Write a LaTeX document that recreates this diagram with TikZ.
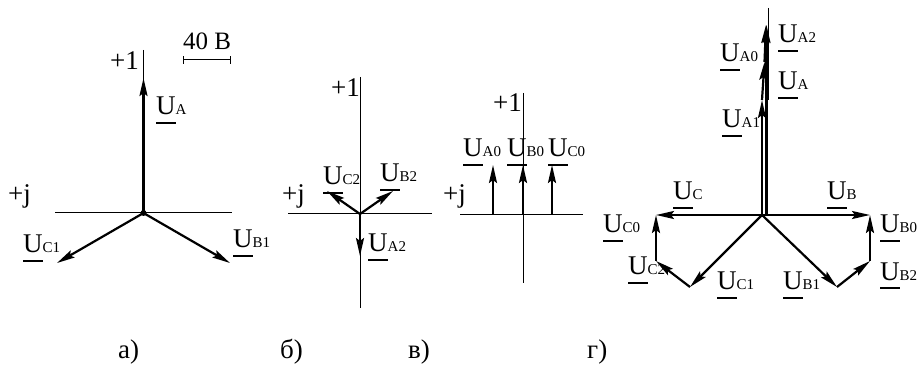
\documentclass[tikz,border=0pt]{standalone}
\usepackage{fontspec}
\setmainfont{Liberation Serif}
\usetikzlibrary{arrows.meta}
\newcommand\UL[1]{\sbox0{U}\rlap{\rule[-9.5pt]{\wd0}{2.6pt}}U{\fontsize{15}{15}\selectfont #1}}
\tikzset{
  vec/.style={line width=2.2pt,-{Stealth[length=18pt,width=8pt,inset=3pt]}},
  ax/.style={line width=1pt},
  lab/.style={anchor=base west,inner sep=0pt,font=\fontsize{27}{27}\selectfont},
  capt/.style={anchor=base west,inner sep=0pt,font=\fontsize{27}{27}\selectfont}
}
\begin{document}
\begin{tikzpicture}[x=1pt,y=-1pt]
\useasboundingbox (0,0) rectangle (919,366);
% ---------- a)
\coordinate (Oa) at (143.5,213);
\coordinate (aT) at (143.5,50);
\coordinate (aL) at (55,213);
\coordinate (aR) at (232,213);
\coordinate (aA) at (143.5,78);
\coordinate (aC1) at (57,263);
\coordinate (aB1) at (230,263);
\draw[ax] (aT) -- (Oa);
\draw[ax] (aL) -- (aR);
\draw[vec] (Oa) -- (aA);
\draw[vec] (Oa) -- (aC1);
\draw[vec] (Oa) -- (aB1);
\fill (Oa) circle (3);
\node[lab] (pa1) at (110,70) {+1};
\node[lab] (paj) at (8,203) {+j};
\node[lab] (laA) at (156,115) {\UL{A}};
\node[lab] (laC1) at (23,253) {\UL{C1}};
\node[lab] (laB1) at (233,248) {\UL{B1}};
\node[lab,font=\fontsize{25}{25}\selectfont] (sc) at (183,50) {40 B};
\coordinate (s1) at (183,60);
\coordinate (s2) at (230,60);
\draw[ax] (s1) -- (s2);
\draw[ax] ([yshift=-4pt]s1) -- ([yshift=4pt]s1);
\draw[ax] ([yshift=-4pt]s2) -- ([yshift=4pt]s2);
% ---------- b)
\coordinate (Ob) at (360,214);
\coordinate (bT) at (360,77);
\coordinate (bB) at (360,308);
\coordinate (bL) at (288,214);
\coordinate (bR) at (432,214);
\coordinate (bC2) at (327,191);
\coordinate (bB2) at (393,191);
\coordinate (bA2) at (360,256);
\draw[ax] (bT) -- (bB);
\draw[ax] (bL) -- (bR);
\draw[vec] (Ob) -- (bC2);
\draw[vec] (Ob) -- (bB2);
\draw[vec] (Ob) -- (bA2);
\node[lab] (pb1) at (331,97) {+1};
\node[lab] (pbj) at (282,203) {+j};
\node[lab] (lbC2) at (323,185) {\UL{C2}};
\node[lab] (lbB2) at (380,182) {\UL{B2}};
\node[lab] (lbA2) at (368,252) {\UL{A2}};
% ---------- v)
\coordinate (Ov) at (523,215);
\coordinate (vT) at (523,93);
\coordinate (vB) at (523,283);
\coordinate (vL) at (460,215);
\coordinate (vR) at (583,215);
\coordinate (vA0s) at (493,215);
\coordinate (vA0) at (493,165);
\coordinate (vB0) at (523,165);
\coordinate (vC0s) at (552,215);
\coordinate (vC0) at (552,165);
\draw[ax] (vT) -- (vB);
\draw[ax] (vL) -- (vR);
\draw[vec] (vA0s) -- (vA0);
\draw[vec] (Ov) -- (vB0);
\draw[vec] (vC0s) -- (vC0);
\node[lab] (pv1) at (493,112) {+1};
\node[lab] (pvj) at (443,203) {+j};
\node[lab] (lvA0) at (463,157) {\UL{A0}};
\node[lab] (lvB0) at (507,157) {\UL{B0}};
\node[lab] (lvC0) at (548,157) {\UL{C0}};
% ---------- g)
\coordinate (Og) at (762,215);
\coordinate (Og2) at (766.5,215);
\coordinate (gT) at (768,8);
\coordinate (gTb) at (768,100);
\coordinate (gA1) at (762,100);
\coordinate (gA2) at (764.5,62);
\coordinate (gA0) at (766,25);
\coordinate (gA) at (766.5,25);
\coordinate (gC) at (656,215);
\coordinate (gC1) at (690,287);
\coordinate (gC2) at (656,261);
\coordinate (gB) at (870,215);
\coordinate (gB1) at (837,287);
\coordinate (gB2) at (870,261);
\draw[ax] (gT) -- (gTb);
\draw[vec] (Og) -- (gA1);
\draw[vec] (gA1) -- (gA2);
\draw[vec] (gA2) -- (gA0);
\draw[vec] (Og2) -- (gA);
\draw[vec] (Og) -- (gC);
\draw[vec] (Og) -- (gC1);
\draw[vec] (gC1) -- (gC2);
\draw[vec] (gC2) -- (gC);
\draw[vec] (Og) -- (gB);
\draw[vec] (Og) -- (gB1);
\draw[vec] (gB1) -- (gB2);
\draw[vec] (gB2) -- (gB);
\node[lab] (lgA2) at (778,43) {\UL{A2}};
\node[lab] (lgA0) at (720,62) {\UL{A0}};
\node[lab] (lgA) at (778,90) {\UL{A}};
\node[lab] (lgA1) at (722,128) {\UL{A1}};
\node[lab] (lgC) at (673,200) {\UL{C}};
\node[lab] (lgB) at (827,200) {\UL{B}};
\node[lab] (lgC0) at (603,233) {\UL{C0}};
\node[lab] (lgB0) at (880,233) {\UL{B0}};
\node[lab] (lgC2) at (628,275) {\UL{C2}};
\node[lab] (lgC1) at (717,290) {\UL{C1}};
\node[lab] (lgB1) at (783,290) {\UL{B1}};
\node[lab] (lgB2) at (880,280) {\UL{B2}};
% ---------- captions
\node[capt] (ca) at (118,358) {а)};
\node[capt] (cb) at (280,358) {б)};
\node[capt] (cv) at (408,358) {в)};
\node[capt] (cg) at (587,358) {г)};
\end{tikzpicture}
\end{document}
